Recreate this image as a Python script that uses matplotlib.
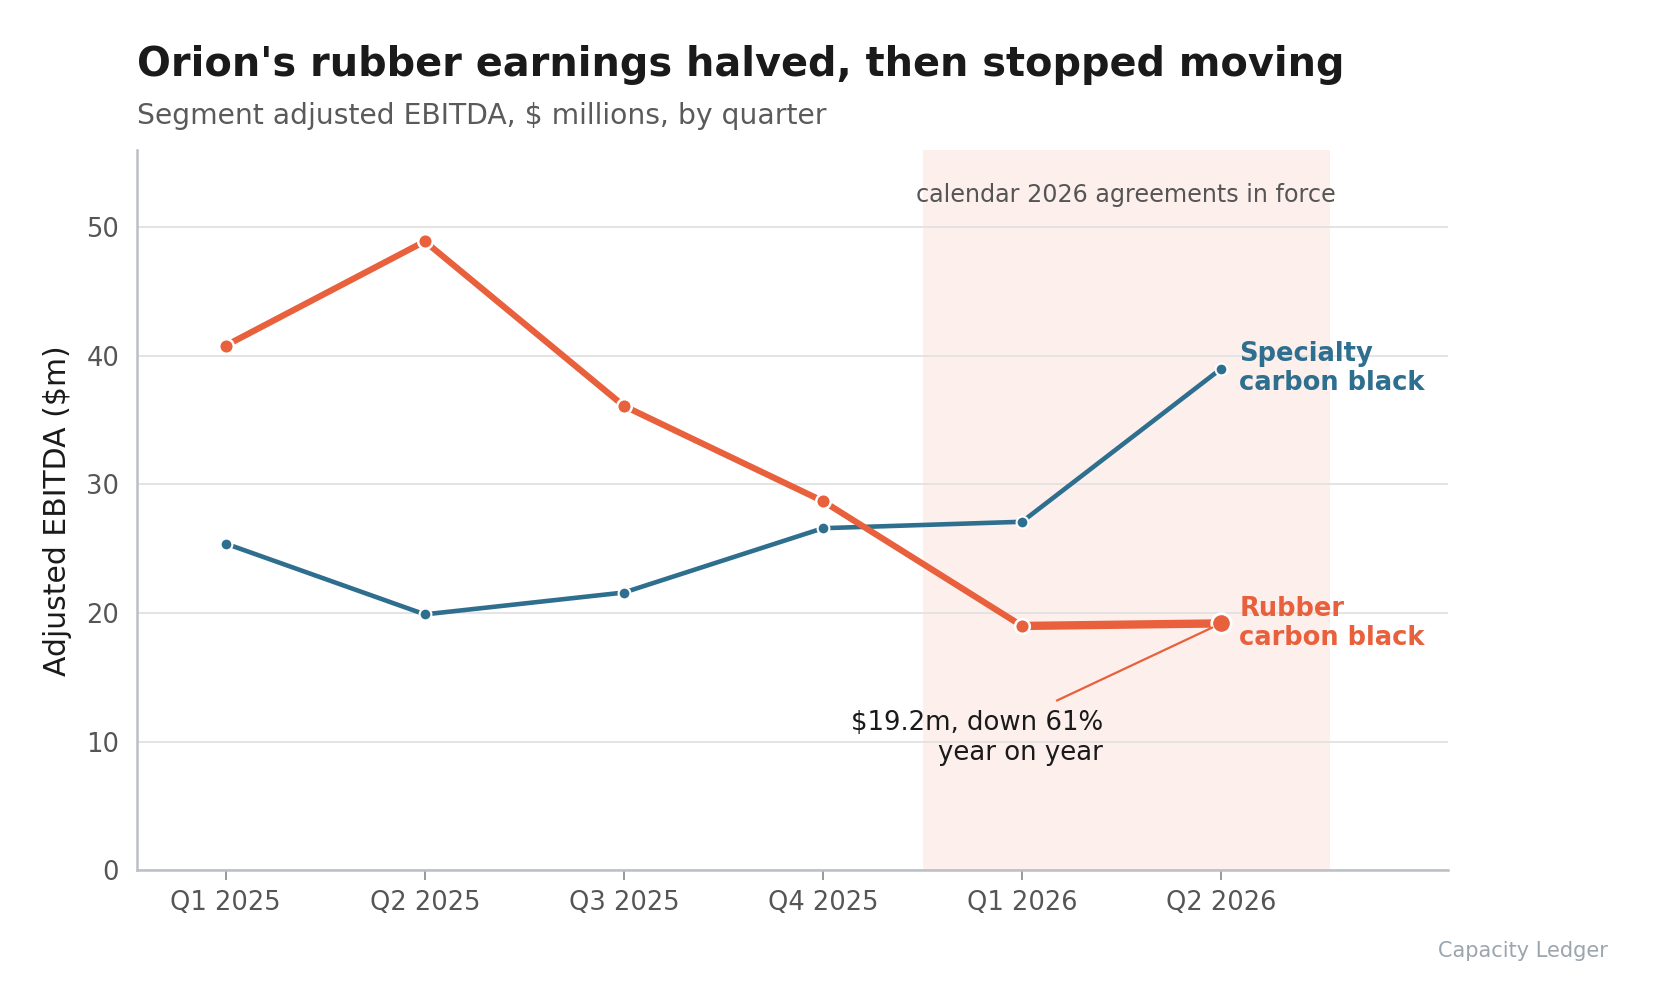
import matplotlib
matplotlib.use("Agg")
import matplotlib.pyplot as plt

quarters = ["Q1 2025", "Q2 2025", "Q3 2025", "Q4 2025", "Q1 2026", "Q2 2026"]
rubber = [40.8, 48.9, 36.1, 28.7, 19.0, 19.2]
specialty = [25.4, 19.9, 21.6, 26.6, 27.1, 39.0]
yticks = [0, 10, 20, 30, 40, 50]

ORANGE = "#E8603C"
BLUE = "#2E6E8E"

plt.rcParams['font.family'] = ['DejaVu Sans']

fig = plt.figure(figsize=(16.53, 10.07), dpi=100)
ax = fig.add_axes([0.083, 0.1357, 0.876 - 0.083, 0.851 - 0.1357])

x = list(range(len(quarters)))

# shaded band for calendar 2026
ax.axvspan(3.5, 5.545, color="#FCEFEC", zorder=0, lw=0)
ax.text(4.52, 52.5, "calendar 2026 agreements in force", ha="center", va="center",
        fontsize=17.2, color="#555555")

ax.grid(axis="y", color="#E2E2E2", lw=1.3, zorder=1)
ax.set_axisbelow(True)

# specialty line
ax.plot(x, specialty, color=BLUE, lw=3.3, marker="o", ms=8.5, mfc=BLUE,
        mec="white", mew=1.5, zorder=3, solid_capstyle="round")
# rubber line
ax.plot(x[:5], rubber[:5], color=ORANGE, lw=4.5, marker="o", ms=10.5, mfc=ORANGE,
        mec="white", mew=1.8, zorder=4, solid_capstyle="round")
ax.plot(x[4:], rubber[4:], color=ORANGE, lw=6.0, zorder=4, solid_capstyle="butt")
ax.plot([x[4]], [rubber[4]], marker="o", ms=10.5, mfc=ORANGE, mec="white", mew=1.8,
        color=ORANGE, zorder=5)
ax.plot([x[5]], [rubber[5]], marker="o", ms=14, mfc=ORANGE, mec="white", mew=2,
        color=ORANGE, zorder=5)

# end labels
ax.annotate("Specialty\ncarbon black", xy=(x[5], specialty[5]), xytext=(13, 0),
            textcoords="offset points", ha="left", va="center", fontsize=18.5,
            fontweight="bold", color=BLUE, linespacing=1.15)
ax.annotate("Rubber\ncarbon black", xy=(x[5], rubber[5]), xytext=(13, 0),
            textcoords="offset points", ha="left", va="center", fontsize=18.5,
            fontweight="bold", color=ORANGE, linespacing=1.15)

# callout
ax.text(4.405, 12.5, "$19.2m, down 61%\nyear on year", ha="right", va="top",
        fontsize=18.7, color="#1A1A1A", linespacing=1.2, zorder=6)
ax.annotate("", xy=(x[5], rubber[5]), xytext=(4.175, 13.2),
            arrowprops=dict(arrowstyle="-", color=ORANGE, lw=1.6,
                            shrinkA=0, shrinkB=7), zorder=6)

ax.set_xlim(-0.445, 6.14)
ax.set_ylim(0, 56)
ax.set_xticks(x)
ax.set_xticklabels(quarters)
ax.set_yticks(yticks)
ax.tick_params(axis="x", length=7, width=1.2, color="#888888", pad=7,
               labelsize=18.5, labelcolor="#555555")
ax.tick_params(axis="y", length=0, pad=13, labelsize=18.5, labelcolor="#555555")

for s in ["top", "right"]:
    ax.spines[s].set_visible(False)
for s in ["left", "bottom"]:
    ax.spines[s].set_color("#BAC0C6")
    ax.spines[s].set_linewidth(1.8)

ax.set_ylabel("Adjusted EBITDA ($m)", fontsize=21.5, color="#1A1A1A")
ax.yaxis.set_label_coords(-0.05, 0.5)

fig.text(0.083, 0.925, "Orion's rubber earnings halved, then stopped moving",
         ha="left", va="baseline", fontsize=28.7, fontweight="bold", color="#1A1A1A")
fig.text(0.083, 0.877, "Segment adjusted EBITDA, $ millions, by quarter",
         ha="left", va="baseline", fontsize=20.3, color="#5A5A5A")
fig.text(0.973, 0.056, "Capacity Ledger", ha="right", va="center",
         fontsize=15, color="#9AA5AE")

fig.savefig("out.png", dpi=100, facecolor="white")
